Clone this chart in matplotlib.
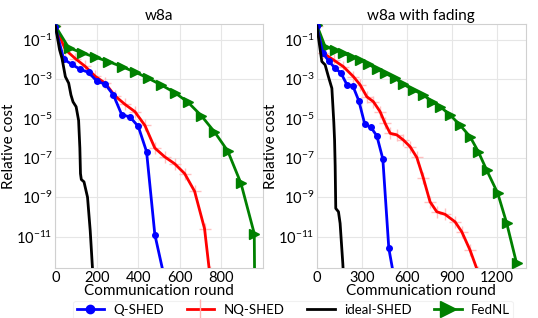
import numpy as np
import matplotlib
matplotlib.use("Agg")
import matplotlib.pyplot as plt
from matplotlib.lines import Line2D
from matplotlib.ticker import LogFormatterMathtext, NullLocator

plt.rcParams['font.family'] = ['Lato', 'DejaVu Sans']
plt.rcParams['mathtext.default'] = 'regular'

# ---- w8a (left) : rounds and log10(relative cost)
q_x_l = [0, 40, 80, 120, 160, 200, 240, 280, 320, 360, 400, 440, 480, 520]
q_y_l = [-0.35, -1.98, -2.25, -2.5, -2.65, -3.1, -3.25, -3.8, -4.8, -4.92, -5.4, -6.68, -10.9, -12.8]

nq_x_l = [0, 48, 96, 144, 192, 240, 288, 336, 384, 432, 480, 528, 576, 624, 672, 720, 744]
nq_y_l = [-0.3, -1.5, -1.95, -2.35, -2.85, -3.2, -3.85, -4.28, -4.65, -5.35, -6.5, -6.95,
          -7.3, -7.8, -8.7, -10.6, -12.8]

id_x_l = [0, 20, 32, 48, 64, 75, 85, 100, 112, 118, 121, 125, 138, 155, 168, 180]
id_y_l = [-0.3, -1.5, -1.95, -2.87, -3.2, -3.8, -4.15, -4.4, -5.1, -6.5, -7.8, -8.1,
          -8.22, -9.0, -10.7, -12.8]

fn_x_l = [0, 64, 128, 192, 256, 320, 384, 448, 512, 576, 640, 704, 768, 832, 896, 960, 962]
fn_y_l = [-0.3, -1.4, -1.65, -1.88, -2.1, -2.36, -2.63, -2.95, -3.3, -3.68, -4.17, -4.85,
          -5.68, -6.65, -8.3, -10.85, -13.5]

# ---- w8a with fading (right)
q_x_r = [0, 40, 80, 120, 160, 200, 240, 280, 320, 360, 400, 440, 480, 520]
q_y_r = [-0.3, -1.68, -2.08, -2.43, -2.68, -3.27, -3.34, -4.1, -5.3, -5.44, -5.88, -7.05, -11.6, -13.3]

nq_x_r = [0, 44, 111, 177, 244, 289, 333, 377, 422, 455, 489, 533, 577, 622, 667, 711,
          755, 800, 855, 922, 967, 1022, 1075]
nq_y_r = [-0.3, -1.68, -2.02, -2.36, -2.87, -3.29, -3.89, -4.14, -4.65, -5.24, -5.75, -5.83,
          -6.09, -6.43, -6.98, -8.04, -9.23, -9.74, -9.87, -10.25, -10.76, -11.69, -12.8]

id_x_r = [0, 33, 55, 77, 100, 107, 113, 118, 122, 126, 144, 155, 173, 176]
id_y_r = [-0.3, -2.1, -2.27, -2.87, -3.46, -4.39, -5.2, -6.09, -7.4, -9.57, -9.74, -10.33,
          -12.37, -12.8]

fn_x_r = [0, 55, 122, 177, 233, 289, 344, 400, 455, 522, 577, 644, 711, 767, 822, 889,
          955, 1022, 1077, 1133, 1207, 1267, 1333]
fn_y_r = [-0.25, -1.34, -1.51, -1.68, -1.85, -2.02, -2.24, -2.48, -2.70, -2.95, -3.26,
          -3.54, -3.80, -4.14, -4.39, -4.82, -5.33, -5.92, -6.68, -7.62, -8.80, -10.33, -12.37]

titles = ["w8a", "w8a with fading"]
xticks = [[0, 200, 400, 600, 800], [0, 300, 600, 900, 1200]]
xlims = [(0, 1000), (0, 1393)]
yticks = [1e-1, 1e-3, 1e-5, 1e-7, 1e-9, 1e-11]

panels = [
    (q_x_l, q_y_l, nq_x_l, nq_y_l, id_x_l, id_y_l, fn_x_l, fn_y_l),
    (q_x_r, q_y_r, nq_x_r, nq_y_r, id_x_r, id_y_r, fn_x_r, fn_y_r),
]

fig = plt.figure(figsize=(5.38, 3.18), dpi=100)
axes = [fig.add_axes([0.103, 0.156, 0.385, 0.768]),
        fig.add_axes([0.589, 0.156, 0.388, 0.768])]

for i, ax in enumerate(axes):
    qx, qy, nx, ny, ix, iy, fx, fy = panels[i]
    ax.plot(nx, 10.0 ** np.array(ny), ls='none', marker='+', ms=9, mew=1,
            color='#ffc0c0', zorder=2)
    ax.plot(nx, 10.0 ** np.array(ny), color='red', lw=2, zorder=3)
    ax.plot(qx, 10.0 ** np.array(qy), color='blue', lw=2, marker='o', ms=4, zorder=4)
    ax.plot(ix, 10.0 ** np.array(iy), color='black', lw=2, zorder=5)
    mk = list(range(len(fx) - 1)) if i == 0 else list(range(len(fx)))
    ax.plot(fx, 10.0 ** np.array(fy), color='green', lw=2, marker='>', ms=7.5,
            markevery=mk, zorder=3)

    ax.set_yscale('log')
    ax.set_ylim(2.4e-13, 0.63)
    ax.set_xlim(*xlims[i])
    ax.set_yticks(yticks)
    ax.yaxis.set_major_formatter(LogFormatterMathtext())
    ax.yaxis.set_minor_locator(NullLocator())
    ax.set_xticks(xticks[i])
    ax.grid(True, color='#e6e6e6', lw=0.8)
    ax.set_axisbelow(True)
    ax.tick_params(length=0, labelsize=10.5, pad=2)
    for s in ax.spines.values():
        s.set_color('#d0d0d0')
        s.set_linewidth(0.8)
    ax.set_title(titles[i], fontsize=11, pad=3)
    ax.set_xlabel("Communication round", fontsize=11, labelpad=-1)
    ax.set_ylabel("Relative cost", fontsize=11, labelpad=0)

handles = [
    Line2D([], [], color='blue', lw=2, marker='o', ms=6),
    Line2D([], [], color='red', lw=2, marker='|', ms=14, mew=1, mec='#ffb3b3'),
    Line2D([], [], color='black', lw=2),
    Line2D([], [], color='green', lw=2, marker='>', ms=12),
]
labels = ["Q-SHED", "NQ-SHED", "ideal-SHED", "FedNL"]
leg = fig.legend(handles, labels, loc='lower center', bbox_to_anchor=(0.545, -0.025),
                 ncol=4, fontsize=9.5, frameon=True, handlelength=2.1, columnspacing=1.7,
                 borderpad=0.25, handletextpad=0.7)
leg.get_frame().set_edgecolor('#eeeeee')
leg.get_frame().set_linewidth(0.8)

fig.savefig("out.png", dpi=100)
